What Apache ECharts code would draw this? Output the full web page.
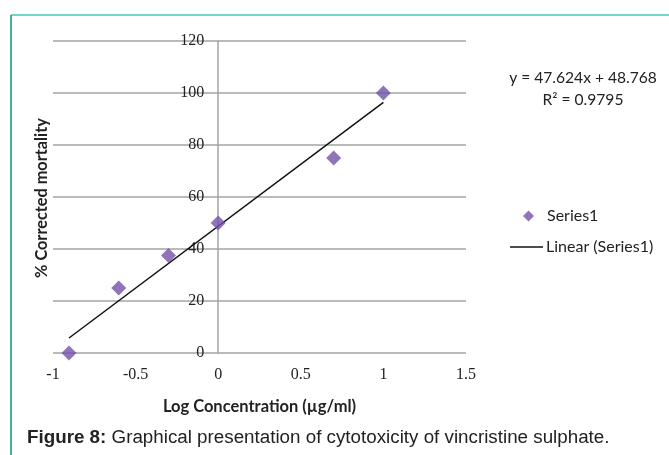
<!DOCTYPE html>
<html><head><meta charset="utf-8">
<script src="https://cdn.jsdelivr.net/npm/echarts@6/dist/echarts.min.js"></script>
<style>html,body{margin:0;padding:0;background:#fff}#c{width:669px;height:455px}</style>
</head><body><div id="c"></div>
<script>
const logConc = [-0.903, -0.602, -0.301, 0, 0.699, 1];
const mortality = [0, 25, 37.5, 50, 75, 100];
const slope = 47.624, intercept = 48.768, r2 = '0.9795';
const xTicks = [-1, -0.5, 0, 0.5, 1, 1.5];
const yTicks = [0, 20, 40, 60, 80, 100, 120];

const pts = logConc.map((x, i) => [x, mortality[i]]);
const xMin = Math.min(...logConc), xMax = Math.max(...logConc);
const trend = [[xMin, slope * xMin + intercept], [xMax, slope * xMax + intercept]];

const gridLeft = 53, gridRight = 203;
const plotW = 669 - gridLeft - gridRight;
const xLo = xTicks[0], xHi = xTicks[xTicks.length - 1];
const yAxisOffset = -plotW * (0 - xLo) / (xHi - xLo);

const chart = echarts.init(document.getElementById('c'));
const grey = '#a3a3a3';
chart.setOption({
  animation: false,
  backgroundColor: '#fff',
  grid: { left: gridLeft, right: gridRight, top: 41, bottom: 102, containLabel: false, outerBoundsMode: 'none' },
  xAxis: {
    type: 'value', min: xLo, max: xHi, interval: 0.5,
    axisLine: { show: false }, axisTick: { show: false }, splitLine: { show: false },
    axisLabel: { margin: 14, fontFamily: 'Liberation Serif', fontSize: 16, color: '#222' },
    name: 'Log Concentration (µg/ml)', nameLocation: 'middle', nameGap: 45,
    nameTextStyle: { fontFamily: 'Lato', fontWeight: 'bold', fontSize: 16.5, color: '#222' }
  },
  yAxis: {
    type: 'value', min: yTicks[0], max: yTicks[yTicks.length - 1], interval: 20,
    position: 'left', offset: yAxisOffset,
    axisLine: { show: true, onZero: false, lineStyle: { color: grey, width: 1.5 } },
    axisTick: { show: false },
    splitLine: { show: true, lineStyle: { color: grey, width: 1.5 } },
    axisLabel: { margin: 14, fontFamily: 'Liberation Serif', fontSize: 16, color: '#222' }
  },
  legend: [
    { data: [{ name: 'Series1', icon: 'diamond' }], orient: 'vertical', left: 518, top: 203,
      itemWidth: 11, itemHeight: 11,
      textStyle: { fontFamily: 'Lato', fontSize: 16, color: '#222', padding: [0, 0, 0, 8] } },
    { data: [{ name: 'Linear (Series1)', icon: 'rect' }], orient: 'vertical', left: 505, top: 234,
      itemWidth: 33, itemHeight: 1.5, itemGap: 0,
      textStyle: { fontFamily: 'Lato', fontSize: 16, color: '#222', padding: [0, 0, 0, -2] } }
  ],
  series: [
    { name: 'Series1', type: 'scatter', data: pts, symbol: 'diamond', symbolSize: 15,
      itemStyle: { color: '#7351a8' }, z: 3 },
    { name: 'Linear (Series1)', type: 'line', data: trend, symbol: 'none',
      lineStyle: { color: '#111', width: 1.5 }, itemStyle: { color: '#111' }, z: 2 }
  ],
  graphic: [
    { type: 'text', x: 42, y: 198, rotation: Math.PI / 2, style: { text: '% Corrected mortality', align: 'center', verticalAlign: 'middle', font: 'bold 16.3px Lato', fill: '#222' } },
    { type: 'text', x: 583, y: 78, style: { text: 'y = ' + slope + 'x + ' + intercept, align: 'center', verticalAlign: 'middle', font: '15.6px Lato', fill: '#222' } },
    { type: 'text', x: 583, y: 100, style: { text: 'R² = ' + r2, align: 'center', verticalAlign: 'middle', font: '15.6px Lato', fill: '#222' } },
    { type: 'line', shape: { x1: 11, y1: 15, x2: 669, y2: 15 }, style: { stroke: '#6fd6c8', lineWidth: 2 } },
    { type: 'line', shape: { x1: 11, y1: 15, x2: 11, y2: 455 }, style: { stroke: '#3fb29c', lineWidth: 2 } },
    { type: 'text', x: 27, y: 438, style: { rich: { b: { font: 'bold 18.8px "Liberation Sans"', fill: '#222' }, n: { font: '18.8px "Liberation Sans"', fill: '#222' } },
      text: '{b|Figure 8:}{n| Graphical presentation of cytotoxicity of vincristine sulphate.}', verticalAlign: 'middle' } }
  ]
});
</script></body></html>
